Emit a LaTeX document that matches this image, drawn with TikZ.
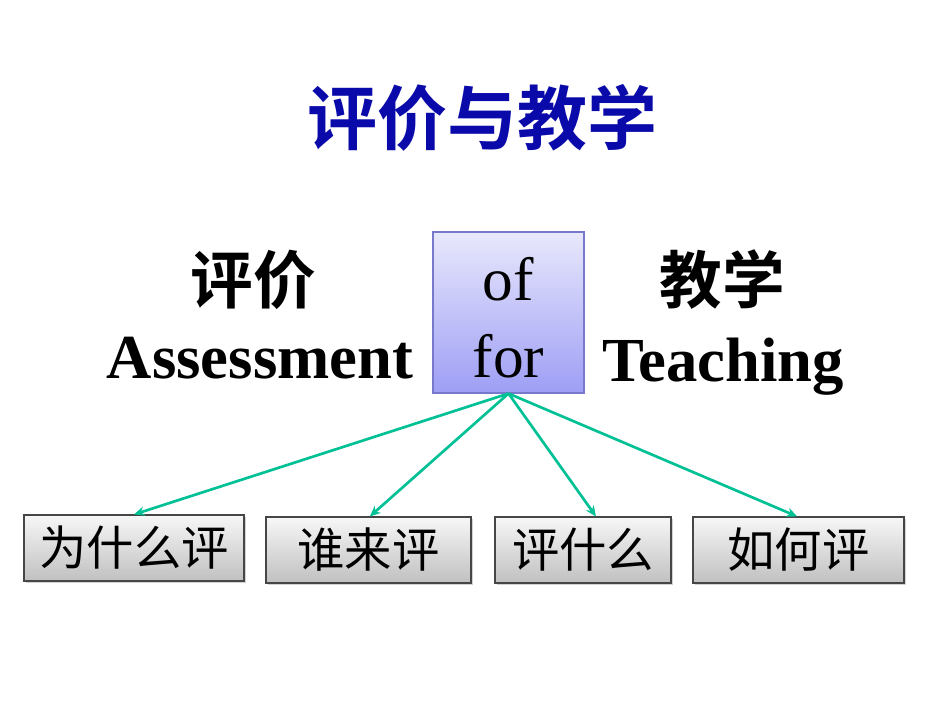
\documentclass[tikz,border=0pt]{standalone}
\usepackage{fontspec}
\setmainfont{Liberation Serif}
\newfontfamily\cjk{Noto Sans CJK SC}
\newfontfamily\cjkb{Noto Sans CJK SC Bold}
\usetikzlibrary{shadows,arrows.meta}
\definecolor{titleblue}{RGB}{10,10,170}
\definecolor{boxtop}{RGB}{232,232,252}
\definecolor{boxbot}{RGB}{158,158,245}
\definecolor{boxline}{RGB}{120,120,205}
\definecolor{graytop}{RGB}{247,247,247}
\definecolor{graybot}{RGB}{192,192,192}
\definecolor{grayline}{RGB}{70,70,70}
\definecolor{arrowgreen}{RGB}{0,192,150}
\tikzset{
  graybox/.style={draw=grayline, line width=0.8pt, top color=graytop, bottom color=graybot,
    minimum height=49.5pt, inner sep=0pt, font={\cjk\fontsize{35.5}{40}\selectfont},
    drop shadow={shadow xshift=1.5pt, shadow yshift=-1.5pt, opacity=0.35}},
  bigcjk/.style={inner sep=0pt, font={\cjkb\fontsize{47}{52}\selectfont}},
  bigen/.style={inner sep=0pt, anchor=base, font={\bfseries\fontsize{47}{52}\selectfont}},
  conn/.style={draw=arrowgreen, line width=2pt, -{Stealth[length=8pt,width=7pt]}}
}
\begin{document}
\begin{tikzpicture}[x=0.75pt,y=-0.75pt]
\useasboundingbox[fill=white] (0,0) rectangle (950,713);
\node[inner sep=0pt, text=titleblue, font={\cjkb\fontsize{52.5}{58}\selectfont}] (title) at (482,118) {评价与教学};
\node[bigcjk] (pj) at (253,280) {评价};
\node[bigen] (as) at (260,378) {Assessment};
\node[bigcjk] (jx) at (722,280) {教学};
\node[bigen] (te) at (723,381) {Teaching};
\node[draw=boxline, line width=0.8pt, top color=boxtop, bottom color=boxbot,
  minimum width=113.25pt, minimum height=120.75pt, inner sep=0pt] (ofor) at (508.5,312.5) {};
\node[inner sep=0pt, anchor=base, font={\fontsize{46}{50}\selectfont}] (of) at (508.5,300) {of};
\node[inner sep=0pt, anchor=base, font={\fontsize{46}{50}\selectfont}] (for) at (508.5,377) {for};
\node[graybox, minimum width=165pt] (b1) at (134,548) {为什么评};
\node[graybox, minimum width=153.75pt] (b2) at (368.5,550) {谁来评};
\node[graybox, minimum width=132pt] (b3) at (583,550) {评什么};
\node[graybox, minimum width=158.25pt] (b4) at (798.5,550) {如何评};
\draw[conn] (ofor.south) -- (b1.north);
\draw[conn] (ofor.south) -- ([xshift=1pt]b2.north);
\draw[conn] (ofor.south) -- ([xshift=9.75pt]b3.north);
\draw[conn] (ofor.south) -- ([xshift=-1pt]b4.north);
\end{tikzpicture}
\end{document}
